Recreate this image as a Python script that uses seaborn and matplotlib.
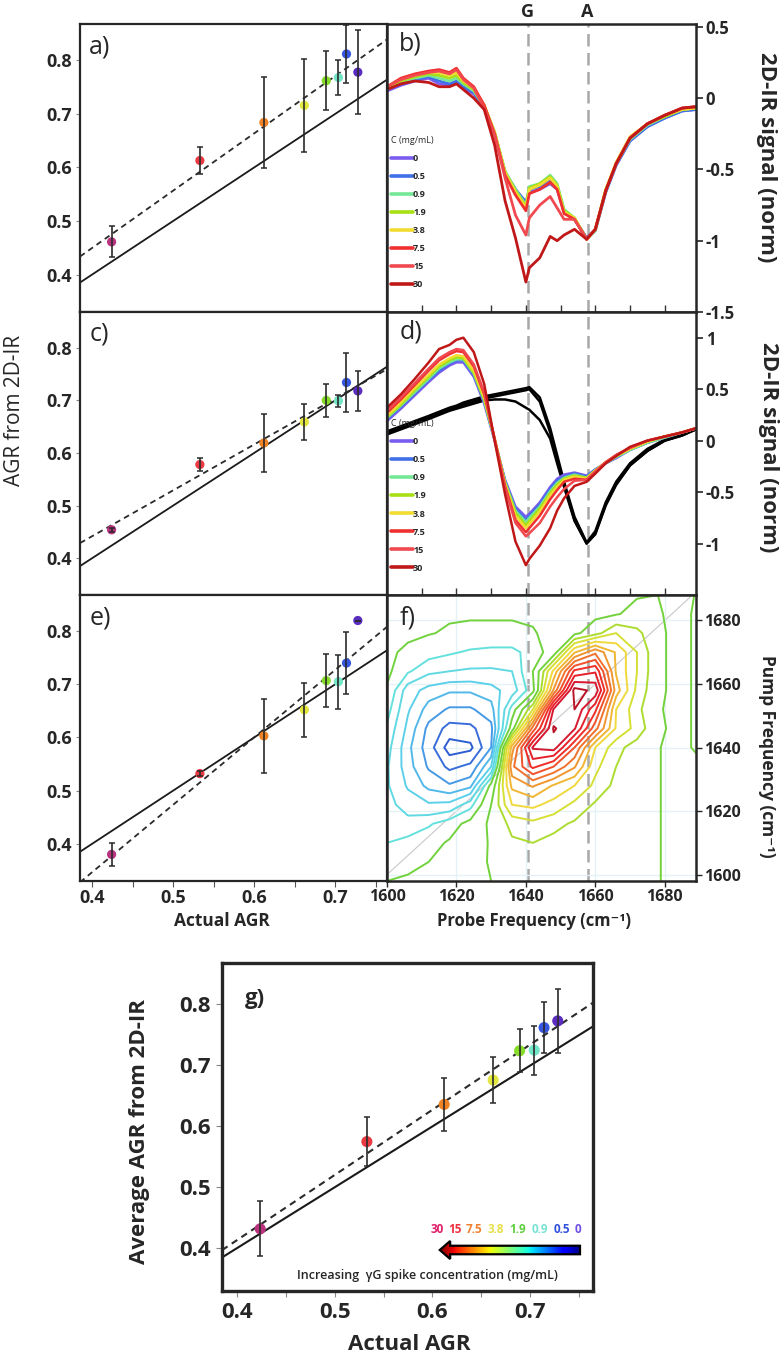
import numpy as np
import pandas as pd
import matplotlib
matplotlib.use('Agg')
import matplotlib.pyplot as plt
import seaborn as sns
from matplotlib.lines import Line2D
from matplotlib.patches import FancyArrow
from matplotlib.colors import LinearSegmentedColormap, Normalize
from matplotlib.ticker import FuncFormatter, MultipleLocator

# ---------------- scatter panels (a, c, e, g) ----------------
conc_labels = ['30', '15', '7.5', '3.8', '1.9', '0.9', '0.5', '0']
actual_agr = [0.424, 0.533, 0.612, 0.662, 0.689, 0.704, 0.714, 0.728]

agr_a = [0.461, 0.613, 0.684, 0.716, 0.762, 0.768, 0.812, 0.778]
err_a = [0.029, 0.026, 0.085, 0.087, 0.055, 0.032, 0.055, 0.078]
agr_c = [0.454, 0.578, 0.619, 0.659, 0.700, 0.699, 0.734, 0.718]
err_c = [0.004, 0.013, 0.056, 0.035, 0.032, 0.011, 0.056, 0.038]
agr_e = [0.380, 0.532, 0.603, 0.652, 0.707, 0.705, 0.740, 0.820]
err_e = [0.022, 0.004, 0.070, 0.051, 0.050, 0.051, 0.058, 0.0]
agr_g = [0.432, 0.575, 0.636, 0.676, 0.724, 0.725, 0.762, 0.773]
err_g = [0.045, 0.040, 0.043, 0.037, 0.035, 0.040, 0.042, 0.053]

point_colors = ['#b8327e', '#e83a40', '#f08224', '#e4e640', '#86dc28',
                '#74e6c8', '#3456e0', '#5a2cc0']
label_colors = ['#e0206a', '#f03040', '#f08030', '#e6e048', '#5ed040',
                '#78e4d4', '#3050e0', '#7050e0']

# ---------------- 1D spectra (b, d) ----------------
probe_freq = [1600, 1604, 1608, 1612, 1615, 1618, 1620, 1622, 1625, 1628,
              1631, 1634, 1637, 1640, 1641, 1644, 1647, 1649, 1651, 1654,
              1657.5, 1660, 1663, 1666, 1670, 1675, 1680, 1685, 1689]

b_c0 = [0.05, 0.09, 0.12, 0.14, 0.10, 0.09, 0.11, 0.07, 0.03, -0.07,
        -0.25, -0.52, -0.64, -0.73, -0.66, -0.64, -0.60, -0.64, -0.80, -0.85,
        -0.98, -0.92, -0.66, -0.47, -0.30, -0.20, -0.14, -0.09, -0.08]
b_c05 = [0.06, 0.10, 0.13, 0.15, 0.12, 0.10, 0.12, 0.08, 0.04, -0.07,
         -0.25, -0.52, -0.64, -0.73, -0.64, -0.62, -0.57, -0.62, -0.79, -0.85,
         -0.98, -0.93, -0.66, -0.47, -0.30, -0.20, -0.14, -0.09, -0.08]
b_c09 = [0.06, 0.11, 0.14, 0.16, 0.14, 0.12, 0.14, 0.10, 0.05, -0.06,
         -0.24, -0.51, -0.64, -0.75, -0.62, -0.60, -0.54, -0.60, -0.78, -0.84,
         -0.99, -0.93, -0.65, -0.46, -0.29, -0.19, -0.13, -0.08, -0.07]
b_c19 = [0.07, 0.12, 0.15, 0.17, 0.16, 0.14, 0.16, 0.11, 0.06, -0.05,
         -0.24, -0.52, -0.65, -0.76, -0.63, -0.60, -0.55, -0.61, -0.79, -0.84,
         -0.99, -0.92, -0.64, -0.46, -0.28, -0.18, -0.13, -0.08, -0.07]
b_c38 = [0.08, 0.13, 0.16, 0.18, 0.18, 0.16, 0.18, 0.12, 0.07, -0.05,
         -0.24, -0.52, -0.66, -0.77, -0.64, -0.61, -0.56, -0.62, -0.80, -0.84,
         -0.99, -0.92, -0.64, -0.45, -0.27, -0.18, -0.12, -0.08, -0.07]
b_c75 = [0.08, 0.14, 0.17, 0.19, 0.20, 0.18, 0.21, 0.14, 0.08, -0.05,
         -0.25, -0.54, -0.68, -0.79, -0.67, -0.64, -0.59, -0.64, -0.81, -0.85,
         -0.99, -0.92, -0.65, -0.46, -0.28, -0.18, -0.12, -0.07, -0.06]
b_c15 = [0.08, 0.13, 0.16, 0.18, 0.19, 0.17, 0.20, 0.13, 0.07, -0.07,
         -0.26, -0.56, -0.82, -0.96, -0.84, -0.75, -0.69, -0.77, -0.85, -0.85,
         -0.99, -0.92, -0.65, -0.46, -0.28, -0.18, -0.12, -0.07, -0.06]
b_c30 = [0.06, 0.10, 0.12, 0.11, 0.08, 0.08, 0.10, 0.06, 0.00, -0.08,
         -0.33, -0.72, -0.98, -1.29, -1.19, -1.12, -0.97, -1.00, -0.96, -0.92,
         -0.99, -0.92, -0.65, -0.46, -0.28, -0.18, -0.12, -0.07, -0.06]

d_c0 = [0.19, 0.31, 0.44, 0.57, 0.66, 0.73, 0.76, 0.76, 0.62, 0.36,
        0.00, -0.38, -0.64, -0.74, -0.71, -0.60, -0.45, -0.37, -0.33, -0.31,
        -0.34, -0.28, -0.22, -0.17, -0.09, -0.02, 0.03, 0.08, 0.12]
d_c05 = [0.21, 0.33, 0.46, 0.59, 0.68, 0.75, 0.78, 0.78, 0.64, 0.38,
         0.01, -0.39, -0.66, -0.77, -0.73, -0.62, -0.47, -0.39, -0.35, -0.32,
         -0.35, -0.28, -0.22, -0.16, -0.09, -0.02, 0.03, 0.08, 0.12]
d_c09 = [0.22, 0.34, 0.47, 0.60, 0.70, 0.76, 0.79, 0.79, 0.65, 0.39,
         0.01, -0.40, -0.68, -0.79, -0.75, -0.64, -0.49, -0.41, -0.36, -0.33,
         -0.36, -0.29, -0.22, -0.16, -0.09, -0.02, 0.03, 0.08, 0.12]
d_c19 = [0.23, 0.35, 0.49, 0.62, 0.72, 0.78, 0.81, 0.80, 0.66, 0.40,
         0.02, -0.41, -0.70, -0.82, -0.78, -0.66, -0.51, -0.43, -0.37, -0.34,
         -0.36, -0.29, -0.21, -0.15, -0.08, -0.01, 0.04, 0.08, 0.12]
d_c38 = [0.24, 0.37, 0.51, 0.64, 0.74, 0.80, 0.83, 0.82, 0.68, 0.42,
         0.02, -0.42, -0.73, -0.85, -0.81, -0.69, -0.53, -0.45, -0.38, -0.35,
         -0.37, -0.29, -0.21, -0.15, -0.08, -0.01, 0.04, 0.08, 0.12]
d_c75 = [0.27, 0.40, 0.54, 0.68, 0.78, 0.84, 0.87, 0.86, 0.72, 0.45,
         0.02, -0.44, -0.77, -0.89, -0.85, -0.73, -0.57, -0.48, -0.40, -0.37,
         -0.38, -0.30, -0.21, -0.14, -0.07, 0.00, 0.04, 0.08, 0.12]
d_c15 = [0.29, 0.42, 0.56, 0.70, 0.80, 0.86, 0.89, 0.88, 0.74, 0.47,
         0.01, -0.46, -0.80, -0.93, -0.90, -0.80, -0.64, -0.55, -0.47, -0.39,
         -0.38, -0.30, -0.21, -0.14, -0.07, 0.00, 0.04, 0.08, 0.12]
d_c30 = [0.32, 0.45, 0.60, 0.76, 0.89, 0.93, 0.98, 1.00, 0.86, 0.55,
         0.00, -0.52, -0.98, -1.21, -1.15, -1.02, -0.85, -0.68, -0.56, -0.44,
         -0.40, -0.32, -0.22, -0.15, -0.06, 0.00, 0.04, 0.08, 0.12]

# black reference spectra in d
d_ref1 = [0.075, 0.12, 0.17, 0.22, 0.26, 0.30, 0.32, 0.35, 0.38, 0.41,
          0.43, 0.45, 0.47, 0.49, 0.50, 0.38, 0.08, -0.18, -0.42, -0.77,
          -1.00, -0.90, -0.62, -0.42, -0.24, -0.10, 0.00, 0.05, 0.11]
d_ref2 = [0.06, 0.11, 0.16, 0.21, 0.25, 0.29, 0.31, 0.33, 0.36, 0.39,
          0.40, 0.40, 0.38, 0.32, 0.30, 0.20, 0.02, -0.22, -0.45, -0.78,
          -1.00, -0.91, -0.63, -0.43, -0.24, -0.10, 0.00, 0.05, 0.11]
d_ref3 = [0.09, 0.14, 0.19, 0.24, 0.28, 0.32, 0.34, 0.37, 0.40, 0.43,
          0.45, 0.47, 0.49, 0.51, 0.52, 0.42, 0.12, -0.14, -0.40, -0.74,
          -0.99, -0.88, -0.60, -0.40, -0.22, -0.08, 0.01, 0.06, 0.11]

line_colors = ['#7b5cf0', '#3f70e8', '#74e896', '#a8e014', '#f2dc30',
               '#f03030', '#f04a50', '#c01818']
legend_labels = ['0', '0.5', '0.9', '1.9', '3.8', '7.5', '15', '30']

# ---------------- 2D-IR spectrum (f) ----------------
probe_2d = [1600, 1606, 1612, 1618, 1624, 1630, 1636, 1642, 1648, 1654,
            1660, 1666, 1672, 1678, 1684, 1690]
pump_2d = [1598, 1604, 1610, 1616, 1622, 1628, 1634, 1640, 1646, 1652,
           1658, 1664, 1670, 1676, 1682, 1688]
signal_2d = [
    [-0.05, -0.04, -0.03, -0.01, 0.01, 0.05, 0.08, 0.09, 0.08, 0.07, 0.07, 0.06, 0.06, 0.055, 0.02, 0.03],
    [-0.08, -0.07, -0.05, -0.02, 0.01, 0.06, 0.10, 0.10, 0.09, 0.08, 0.07, 0.07, 0.06, 0.055, 0.02, 0.03],
    [-0.13, -0.11, -0.08, -0.04, 0.00, 0.06, 0.12, 0.13, 0.11, 0.09, 0.08, 0.07, 0.06, 0.055, 0.02, 0.03],
    [-0.16, -0.17, -0.14, -0.09, -0.02, 0.07, 0.15, 0.18, 0.15, 0.12, 0.10, 0.08, 0.06, 0.055, 0.02, 0.03],
    [-0.17, -0.24, -0.27, -0.26, -0.16, 0.05, 0.28, 0.30, 0.25, 0.18, 0.12, 0.09, 0.07, 0.055, 0.02, 0.03],
    [-0.19, -0.29, -0.37, -0.41, -0.37, -0.02, 0.38, 0.45, 0.35, 0.28, 0.18, 0.11, 0.07, 0.055, 0.02, 0.03],
    [-0.19, -0.32, -0.43, -0.52, -0.48, -0.28, 0.50, 0.70, 0.60, 0.45, 0.22, 0.13, 0.08, 0.055, 0.02, 0.03],
    [-0.17, -0.33, -0.46, -0.62, -0.60, -0.42, 0.40, 0.85, 0.88, 0.60, 0.28, 0.15, 0.10, 0.055, 0.02, 0.07],
    [-0.14, -0.30, -0.44, -0.53, -0.52, -0.44, 0.00, 0.55, 0.93, 0.85, 0.55, 0.27, 0.17, 0.07, 0.02, 0.07],
    [-0.10, -0.27, -0.38, -0.43, -0.43, -0.38, -0.10, 0.20, 0.85, 0.92, 0.70, 0.28, 0.15, 0.06, 0.02, 0.07],
    [-0.06, -0.24, -0.31, -0.34, -0.34, -0.31, -0.24, -0.08, 0.45, 0.95, 0.90, 0.40, 0.18, 0.07, 0.02, 0.07],
    [-0.03, -0.12, -0.18, -0.20, -0.21, -0.21, -0.20, -0.05, 0.30, 0.70, 0.75, 0.35, 0.20, 0.07, 0.02, 0.07],
    [-0.03, -0.07, -0.10, -0.12, -0.14, -0.15, -0.15, -0.10, 0.00, 0.35, 0.50, 0.35, 0.20, 0.07, 0.02, 0.07],
    [-0.02, -0.03, -0.045, -0.06, -0.07, -0.07, -0.07, -0.06, -0.01, 0.03, 0.10, 0.20, 0.15, 0.07, 0.02, 0.07],
    [-0.01, -0.03, -0.04, -0.04, -0.04, -0.04, -0.04, -0.03, -0.01, 0.01, 0.03, 0.045, 0.07, 0.06, 0.02, 0.07],
    [0.00, -0.02, -0.03, -0.03, -0.03, -0.03, -0.03, -0.02, 0.00, 0.01, 0.02, 0.03, 0.045, 0.05, 0.02, 0.06],
]
levels_2d = [-0.58, -0.5, -0.42, -0.35, -0.28, -0.2, -0.13, -0.05,
             0.05, 0.13, 0.2, 0.28, 0.36, 0.44, 0.52, 0.6, 0.68, 0.76, 0.84, 0.92]

g_line, a_line = 1640.5, 1658

# ---------------- style ----------------
sns.set_style('ticks')
plt.rcParams['font.family'] = ['Open Sans', 'DejaVu Sans']
plt.rcParams['axes.unicode_minus'] = False
plt.rcParams['axes.linewidth'] = 1.6

W, H = 783, 1358
fig = plt.figure(figsize=(W / 100, H / 100), dpi=100)


def box(l, t, r, b):
    return [l / W, 1 - b / H, (r - l) / W, (b - t) / H]


ax_a = fig.add_axes(box(80, 24, 387, 312))
ax_c = fig.add_axes(box(80, 312, 387, 595))
ax_e = fig.add_axes(box(80, 595, 387, 881))
ax_b = fig.add_axes(box(387, 24, 696, 312))
ax_d = fig.add_axes(box(387, 312, 696, 595))
ax_f = fig.add_axes(box(387, 595, 696, 881))
ax_g = fig.add_axes(box(222, 963, 593, 1291))

palette = dict(zip(conc_labels, point_colors))
xlim_agr = (0.385, 0.764)
ylim_agr = (0.33, 0.868)


def agr_panel(ax, agr, err, size=44, lw=1.3):
    ax.set_xlim(xlim_agr)
    ax.set_ylim(ylim_agr)
    ax.axline((0.5, 0.5), slope=1, color='#1a1a1a', lw=lw, zorder=1)
    sns.regplot(x=actual_agr, y=agr, scatter=False, ci=None, truncate=False,
                color='#2a2a2a', line_kws=dict(ls=(0, (3.2, 2.4)), lw=lw), ax=ax)
    sns.scatterplot(x=actual_agr, y=agr, hue=conc_labels, palette=palette,
                    s=size, edgecolor='none', legend=False, ax=ax, zorder=3)
    ax.errorbar(actual_agr, agr, yerr=err, fmt='none', ecolor='#2a2a2a',
                elinewidth=1.2, capsize=2, capthick=1.1, zorder=4)
    ax.set_xlim(xlim_agr)
    ax.set_ylim(ylim_agr)
    ax.set_xlabel('')
    ax.set_ylabel('')


for ax, agr, err, lab in [(ax_a, agr_a, err_a, 'a)'), (ax_c, agr_c, err_c, 'c)'),
                          (ax_e, agr_e, err_e, 'e)')]:
    agr_panel(ax, agr, err)
    ax.set_yticks([0.4, 0.5, 0.6, 0.7, 0.8])
    ax.yaxis.set_major_formatter(FuncFormatter(lambda v, _: f'{v:.1f}'))
    ax.tick_params(axis='y', length=3, width=0.8, color='#888888', labelsize=13, pad=3)
    for t in ax.get_yticklabels():
        t.set_fontweight('bold')
    ax.text(0.03, 0.965, lab, transform=ax.transAxes, fontsize=18, va='top', ha='left')
    for s in ax.spines.values():
        s.set_linewidth(1.6)

for ax in (ax_a, ax_c):
    ax.set_xticks([])

ax_e.set_xticks([0.4, 0.5, 0.6, 0.7])
ax_e.xaxis.set_minor_locator(MultipleLocator(0.05))
ax_e.xaxis.set_major_formatter(FuncFormatter(lambda v, _: f'{v:.1f}'))
ax_e.tick_params(axis='x', which='both', length=4, width=0.8, color='#555555',
                 labelsize=13, pad=2)
for t in ax_e.get_xticklabels():
    t.set_fontweight('bold')

# ---- spectra b, d ----
spec_b = pd.DataFrame({
    'freq': probe_freq * 8,
    'signal': b_c0 + b_c05 + b_c09 + b_c19 + b_c38 + b_c75 + b_c15 + b_c30,
    'conc': np.repeat(legend_labels, len(probe_freq)),
})
spec_d = pd.DataFrame({
    'freq': probe_freq * 8,
    'signal': d_c0 + d_c05 + d_c09 + d_c19 + d_c38 + d_c75 + d_c15 + d_c30,
    'conc': np.repeat(legend_labels, len(probe_freq)),
})
ref_d = pd.DataFrame({
    'freq': probe_freq * 3,
    'signal': d_ref1 + d_ref2 + d_ref3,
    'run': np.repeat(['r1', 'r2', 'r3'], len(probe_freq)),
})
line_pal = dict(zip(legend_labels, line_colors))

sns.lineplot(data=spec_b, x='freq', y='signal', hue='conc', hue_order=legend_labels,
             palette=line_pal, estimator=None, lw=2.0, legend=False, ax=ax_b)
sns.lineplot(data=ref_d, x='freq', y='signal', units='run', estimator=None,
             color='black', lw=1.8, legend=False, ax=ax_d)
sns.lineplot(data=spec_d, x='freq', y='signal', hue='conc', hue_order=legend_labels,
             palette=line_pal, estimator=None, lw=1.8, legend=False, ax=ax_d)

ax_b.set_ylim(-1.5, 0.52)
ax_b.set_yticks([0.5, 0, -0.5, -1, -1.5])
ax_d.set_ylim(-1.5, 1.25)
ax_d.set_yticks([1, 0.5, 0, -0.5, -1])

handles = [Line2D([], [], color=c, lw=2.6) for c in line_colors]
for ax, lab in [(ax_b, 'b)'), (ax_d, 'd)')]:
    ax.set_xlim(1600, 1689)
    ax.set_xticks(np.arange(1610, 1689, 10))
    ax.tick_params(axis='x', direction='in', length=5, width=1, color='#333333',
                   labelbottom=False)
    ax.yaxis.tick_right()
    ax.yaxis.set_major_formatter(FuncFormatter(lambda v, _: f'{v:g}'))
    ax.tick_params(axis='y', length=5, width=1.2, labelsize=12, pad=2)
    for t in ax.get_yticklabels():
        t.set_fontweight('bold')
    ax.set_xlabel('')
    ax.set_ylabel('')
    ax.text(0.04, 0.975, lab, transform=ax.transAxes, fontsize=18, va='top', ha='left')
    leg = ax.legend(handles, legend_labels, title='C (mg/mL)', loc='lower left',
                    bbox_to_anchor=(-0.005, 0.06), frameon=False, fontsize=6.5,
                    title_fontsize=6.5, handlelength=2.4, handletextpad=0.05,
                    labelspacing=1.0, borderpad=0.1, alignment='left')
    for t in leg.get_texts():
        t.set_fontweight('bold')
    for s in ax.spines.values():
        s.set_linewidth(1.8)

# ---- 2D-IR contour f ----
cmap2d = LinearSegmentedColormap.from_list('ir2d', [
    (0.00, '#1030a0'), (0.20, '#2a5ad0'), (0.26, '#3a70dc'), (0.30, '#4aa6e8'),
    (0.36, '#5cd0ea'), (0.44, '#66e2dc'), (0.475, '#72d23c'), (0.525, '#72d23c'),
    (0.58, '#c4e02c'), (0.63, '#f0e040'), (0.70, '#f0a830'), (0.77, '#f06a2c'),
    (0.85, '#f02828'), (0.92, '#d81830'), (1.00, '#a01020')])
ax_f.contour(probe_2d, pump_2d, np.array(signal_2d), levels=levels_2d, cmap=cmap2d,
             norm=Normalize(-1, 1), linewidths=1.4)
ax_f.axline((1600, 1600), slope=1, color='#c8c8c8', lw=0.8, zorder=0)
ax_f.set_xlim(1600, 1689)
ax_f.set_ylim(1598, 1688)
ax_f.set_xticks([1600, 1620, 1640, 1660, 1680])
ax_f.set_yticks([1600, 1620, 1640, 1660, 1680])
ax_f.grid(True, color='#e2f2f6', lw=0.9)
ax_f.set_axisbelow(True)
ax_f.yaxis.tick_right()
ax_f.tick_params(axis='both', length=4, width=1, labelsize=11.5, pad=2)
for t in ax_f.get_xticklabels() + ax_f.get_yticklabels():
    t.set_fontweight('bold')
ax_f.text(0.04, 0.965, 'f)', transform=ax_f.transAxes, fontsize=18, va='top', ha='left')
for s in ax_f.spines.values():
    s.set_linewidth(1.8)

for ax in (ax_b, ax_d, ax_f):
    for x in (g_line, a_line):
        ax.axvline(x, color='#a8a8a8', lw=1.8, ls=(0, (5, 2.6)), zorder=0.5)

# ---- panel g ----
agr_panel(ax_g, agr_g, err_g, size=64, lw=1.5)
ax_g.set_xticks([0.4, 0.5, 0.6, 0.7])
ax_g.xaxis.set_minor_locator(MultipleLocator(0.05))
ax_g.set_yticks([0.4, 0.5, 0.6, 0.7, 0.8])
fmt1 = FuncFormatter(lambda v, _: f'{v:.1f}')
ax_g.xaxis.set_major_formatter(fmt1)
ax_g.yaxis.set_major_formatter(fmt1)
ax_g.tick_params(axis='both', which='both', length=4, width=0.8, color='#888888',
                 labelsize=16, pad=4)
for t in ax_g.get_xticklabels() + ax_g.get_yticklabels():
    t.set_fontweight('bold')
for s in ax_g.spines.values():
    s.set_linewidth(2.4)
ax_g.text(0.063, 0.925, 'g)', transform=ax_g.transAxes, fontsize=16,
          fontweight='bold', va='top', ha='left')

label_x = [0.580, 0.628, 0.680, 0.739, 0.798, 0.857, 0.916, 0.960]
for x, lab, c in zip(label_x, conc_labels, label_colors):
    ax_g.text(x, 0.186, lab, color=c, transform=ax_g.transAxes, fontsize=8.5,
              fontweight='bold', ha='center', va='center')

arrow = FancyArrow(0.965, 0.125, -0.378, 0.0, width=0.026, head_width=0.055,
                   head_length=0.028, length_includes_head=True,
                   transform=ax_g.transAxes, fc='none', ec='black', lw=1.6, zorder=5)
ax_g.add_patch(arrow)
grad = ax_g.imshow(np.linspace(0, 1, 256)[None, :], cmap='jet_r', aspect='auto',
                   extent=[0.587, 0.965, 0.095, 0.155], transform=ax_g.transAxes,
                   zorder=4, interpolation='bilinear')
grad.set_clip_path(arrow)
ax_g.set_xlim(xlim_agr)
ax_g.set_ylim(ylim_agr)
ax_g.text(0.555, 0.046, 'Increasing  \u03b3G spike concentration (mg/mL)',
          transform=ax_g.transAxes, fontsize=9, ha='center', va='center',
          fontweight='semibold')

# ---- figure-level labels ----
fig.text(527 / W, 1 - 12 / H, 'G', fontsize=13, fontweight='bold', ha='center', va='center')
fig.text(587 / W, 1 - 12 / H, 'A', fontsize=13, fontweight='bold', ha='center', va='center')
fig.text(15 / W, 1 - 410 / H, 'AGR from 2D-IR', fontsize=15, rotation=90,
         ha='center', va='center')
fig.text(222 / W, 1 - 921 / H, 'Actual AGR', fontsize=12.5, fontweight='bold',
         ha='center', va='center')
fig.text(534 / W, 1 - 921 / H, 'Probe Frequency (cm\u207b\u00b9)', fontsize=12,
         fontweight='bold', ha='center', va='center')
fig.text(767 / W, 1 - 157 / H, '2D-IR signal (norm)', fontsize=16, fontweight='bold',
         rotation=270, ha='center', va='center')
fig.text(768 / W, 1 - 447 / H, '2D-IR signal (norm)', fontsize=16, fontweight='bold',
         rotation=270, ha='center', va='center')
fig.text(767 / W, 1 - 756 / H, 'Pump Frequency (cm\u207b\u00b9)', fontsize=12.5,
         fontweight='bold', rotation=270, ha='center', va='center')
fig.text(409 / W, 1 - 1345 / H, 'Actual AGR', fontsize=16, fontweight='bold',
         ha='center', va='center')
fig.text(139 / W, 1 - 1131 / H, 'Average AGR from 2D-IR', fontsize=16,
         fontweight='bold', rotation=90, ha='center', va='center')

fig.savefig('out.png', dpi=100)
